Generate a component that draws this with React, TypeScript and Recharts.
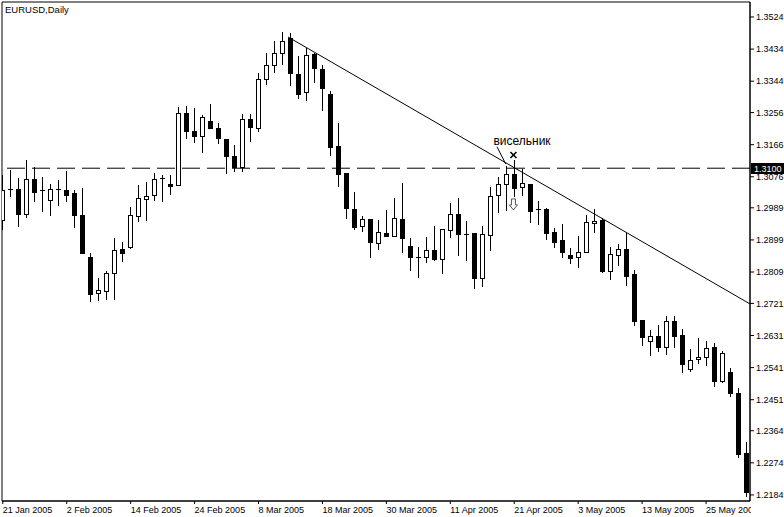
import React from 'react';
import {
  ComposedChart, Bar, XAxis, YAxis, ReferenceLine, ReferenceArea, ReferenceDot,
} from 'recharts';

// EURUSD daily, 21 Jan 2005 .. 1 Jun 2005 (one value per trading day)
const opens = [
  1.2955, 1.3042, 1.3042, 1.2972, 1.3070, 1.3039, 1.3011, 1.3042, 1.3039, 1.3031,
  1.2969, 1.2851, 1.2750, 1.2756, 1.2806, 1.2874, 1.2879, 1.2966, 1.3014, 1.3025,
  1.3073, 1.3056, 1.3053, 1.3255, 1.3204, 1.3190, 1.3233, 1.3213, 1.3182, 1.3134,
  1.3104, 1.3238, 1.3213, 1.3350, 1.3390, 1.3423, 1.3465, 1.3364, 1.3314, 1.3420,
  1.3378, 1.3308, 1.3162, 1.3087, 1.2986, 1.2938, 1.2958, 1.2891, 1.2919, 1.2910,
  1.2958, 1.2882, 1.2851, 1.2851, 1.2871, 1.2846, 1.2927, 1.2972, 1.2916, 1.2919,
  1.2792, 1.2913, 1.3025, 1.3056, 1.3084, 1.3047, 1.3056, 1.2986, 1.2986, 1.2921,
  1.2899, 1.2857, 1.2851, 1.2865, 1.2947, 1.2955, 1.2812, 1.2857, 1.2874, 1.2804,
  1.2675, 1.2616, 1.2630, 1.2599, 1.2672, 1.2633, 1.2537, 1.2565, 1.2571, 1.2599,
  1.2504, 1.2529, 1.2470, 1.2302,
];
const highs = [
  1.3081, 1.3095, 1.3073, 1.3123, 1.3104, 1.3075, 1.3056, 1.3067, 1.3092, 1.3039,
  1.3045, 1.2862, 1.2792, 1.2812, 1.2905, 1.2893, 1.2991, 1.3053, 1.3062, 1.3087,
  1.3081, 1.3081, 1.3272, 1.3275, 1.3269, 1.3249, 1.3280, 1.3227, 1.3182, 1.3165,
  1.3252, 1.3252, 1.3367, 1.3423, 1.3457, 1.3482, 1.3479, 1.3415, 1.3437, 1.3423,
  1.3390, 1.3317, 1.3227, 1.3087, 1.3033, 1.2966, 1.2958, 1.2955, 1.2983, 1.3017,
  1.3059, 1.2905, 1.2879, 1.2907, 1.2938, 1.2930, 1.3003, 1.3017, 1.2952, 1.2919,
  1.2938, 1.3047, 1.3075, 1.3106, 1.3123, 1.3098, 1.3056, 1.3008, 1.2989, 1.2933,
  1.2944, 1.2877, 1.2910, 1.2969, 1.2986, 1.2961, 1.2879, 1.2888, 1.2919, 1.2815,
  1.2675, 1.2647, 1.2661, 1.2686, 1.2686, 1.2649, 1.2593, 1.2624, 1.2616, 1.2610,
  1.2588, 1.2540, 1.2484, 1.2333,
];
const lows = [
  1.2927, 1.3019, 1.2935, 1.2961, 1.3005, 1.2977, 1.2966, 1.2994, 1.3005, 1.2933,
  1.2860, 1.2725, 1.2728, 1.2731, 1.2731, 1.2837, 1.2874, 1.2949, 1.2952, 1.3008,
  1.3005, 1.3025, 1.3050, 1.3182, 1.3171, 1.3143, 1.3213, 1.3168, 1.3084, 1.3090,
  1.3090, 1.3174, 1.3202, 1.3333, 1.3367, 1.3390, 1.3331, 1.3294, 1.3289, 1.3339,
  1.3261, 1.3134, 1.3047, 1.2958, 1.2927, 1.2921, 1.2848, 1.2871, 1.2907, 1.2907,
  1.2862, 1.2812, 1.2792, 1.2834, 1.2840, 1.2804, 1.2905, 1.2854, 1.2840, 1.2762,
  1.2767, 1.2868, 1.2975, 1.2980, 1.3019, 1.3022, 1.2947, 1.2941, 1.2899, 1.2877,
  1.2848, 1.2832, 1.2820, 1.2862, 1.2919, 1.2806, 1.2787, 1.2826, 1.2770, 1.2658,
  1.2602, 1.2574, 1.2585, 1.2577, 1.2596, 1.2526, 1.2529, 1.2551, 1.2546, 1.2487,
  1.2498, 1.2459, 1.2288, 1.2178,
];
const closes = [
  1.3039, 1.3042, 1.2972, 1.3070, 1.3033, 1.3039, 1.3042, 1.3042, 1.3025, 1.2969,
  1.2862, 1.2748, 1.2759, 1.2806, 1.2871, 1.2862, 1.2969, 1.3017, 1.3022, 1.3070,
  1.3073, 1.3050, 1.3255, 1.3204, 1.3190, 1.3244, 1.3213, 1.3185, 1.3134, 1.3104,
  1.3238, 1.3216, 1.3350, 1.3390, 1.3423, 1.3457, 1.3367, 1.3308, 1.3418, 1.3381,
  1.3325, 1.3160, 1.3084, 1.2989, 1.2935, 1.2958, 1.2893, 1.2921, 1.2910, 1.2961,
  1.2905, 1.2851, 1.2851, 1.2871, 1.2846, 1.2930, 1.2972, 1.2916, 1.2916, 1.2792,
  1.2916, 1.3022, 1.3056, 1.3084, 1.3045, 1.3059, 1.2980, 1.2986, 1.2919, 1.2893,
  1.2865, 1.2848, 1.2865, 1.2949, 1.2952, 1.2812, 1.2860, 1.2874, 1.2798, 1.2672,
  1.2627, 1.2630, 1.2599, 1.2672, 1.2630, 1.2551, 1.2563, 1.2571, 1.2596, 1.2504,
  1.2582, 1.2470, 1.2299, 1.2192,
];

// date labels every 8 bars
const dateTicks = [0, 8, 16, 24, 32, 40, 48, 56, 64, 72, 80, 88];
const dateLabels = [
  '21 Jan 2005', '2 Feb 2005', '14 Feb 2005', '24 Feb 2005', '8 Mar 2005', '18 Mar 2005',
  '30 Mar 2005', '11 Apr 2005', '21 Apr 2005', '3 May 2005', '13 May 2005', '25 May 2005',
];
const priceTicks = [
  1.3524, 1.3434, 1.3344, 1.3256, 1.3166, 1.3076, 1.2989, 1.2899,
  1.2809, 1.2721, 1.2631, 1.2541, 1.2451, 1.2364, 1.2274, 1.2184,
];

const levelPrice = 1.31;
const trendLine = [{ x: 35.69, y: 1.3468 }, { x: 93.5, y: 1.27195 }];
const pointerLine = [{ x: 61.84, y: 1.316 }, { x: 62.93, y: 1.3112 }];
const markCross = { x: 63.9, y: 1.3137 };
const markArrow = { x: 63.9, y: 1.2997 };
const markLabel = { x: 64.97, y: 1.3177, text: 'висельник' };

const X_DOMAIN = [-0.1, 93.5];
const Y_DOMAIN = [1.2167, 1.3566];
const FONT = '"Liberation Sans", Arial, sans-serif';

const data = opens.map((o, i) => ({
  i,
  open: o,
  high: highs[i],
  low: lows[i],
  close: closes[i],
  range: [lows[i], highs[i]],
}));

const Candle = (props: any) => {
  const { x, y, width, height, payload } = props;
  const { open, close, high, low } = payload;
  const c = Math.round(x + width / 2);
  const k = height / (high - low);
  const yOf = (v: number) => y + (high - v) * k;
  const top = Math.round(yOf(Math.max(open, close)));
  const bot = Math.round(yOf(Math.min(open, close)));
  const wick = <line x1={c + 0.5} x2={c + 0.5} y1={Math.round(y)} y2={Math.round(y + height)} stroke="#000" strokeWidth={1} />;
  if (bot - top < 1) {
    return (
      <g>
        {wick}
        <line x1={c - 2} x2={c + 3} y1={top + 0.5} y2={top + 0.5} stroke="#000" strokeWidth={1} />
      </g>
    );
  }
  if (close > open) {
    return (
      <g>
        {wick}
        <rect x={c - 1.5} y={top + 0.5} width={4} height={bot - top} fill="#fff" stroke="#000" strokeWidth={1} />
      </g>
    );
  }
  return (
    <g>
      {wick}
      <rect x={c - 2} y={top} width={5} height={bot - top + 1} fill="#000" />
    </g>
  );
};

// date labels are cut off where the price scale begins
const DateTick = (props: any) => {
  const { x, y, payload } = props;
  const idx = dateTicks.indexOf(payload.value);
  return (
    <g>
      {idx === 0 && (
        <defs>
          <clipPath id="dateClip">
            <rect x={0} y={0} width={751} height={517} />
          </clipPath>
        </defs>
      )}
      <text x={x} y={y + 7} textAnchor="start" fontSize={9} fontFamily={FONT} fill="#000" clipPath="url(#dateClip)">
        {dateLabels[idx]}
      </text>
    </g>
  );
};

const PriceTag = (props: any) => {
  const { viewBox } = props;
  const right = viewBox.x + viewBox.width;
  const yy = Math.round(viewBox.y);
  return (
    <g>
      <rect x={right + 1} y={yy - 5} width={34} height={11} fill="#000" />
      <text x={right + 4} y={yy + 4} fontSize={9} fontFamily={FONT} fill="#fff">1.3100</text>
    </g>
  );
};

const CrossMark = (p: any) => (
  <g stroke="#000" strokeWidth={1.6}>
    <line x1={p.cx - 3} y1={p.cy - 3} x2={p.cx + 3} y2={p.cy + 3} />
    <line x1={p.cx - 3} y1={p.cy + 3} x2={p.cx + 3} y2={p.cy - 3} />
  </g>
);

const DownArrow = (p: any) => {
  const { cx, cy } = p;
  const d = `M${cx - 2},${cy - 6} L${cx + 2},${cy - 6} L${cx + 2},${cy} L${cx + 4},${cy} L${cx},${cy + 5} L${cx - 4},${cy} L${cx - 2},${cy} Z`;
  return <path d={d} fill="#fff" stroke="#555" strokeWidth={1} />;
};

const MarkText = (p: any) => (
  <text x={p.cx} y={p.cy + 4} textAnchor="middle" fontSize={12} fontFamily={FONT} fill="#000">
    {markLabel.text}
  </text>
);

export default function App() {
  return (
    <div style={{ position: 'relative', width: 784, height: 517, background: '#fff' }}>
      <style>{'body{margin:0;background:#fff}'}</style>
      <ComposedChart
        width={784}
        height={517}
        data={data}
        margin={{ top: 2, right: 0, bottom: 0, left: 2 }}
      >
        <XAxis
          dataKey="i"
          type="number"
          domain={X_DOMAIN}
          allowDataOverflow
          ticks={dateTicks}
          tick={<DateTick />}
          tickSize={3}
          height={16}
          axisLine={{ stroke: '#000' }}
          tickLine={{ stroke: '#000' }}
          interval={0}
        />
        <YAxis
          orientation="right"
          type="number"
          domain={Y_DOMAIN}
          allowDataOverflow
          ticks={priceTicks}
          interval={0}
          width={34}
          tickSize={4}
          tickMargin={2}
          tickFormatter={(v: number) => v.toFixed(4)}
          tick={{ fontSize: 9, fontFamily: FONT, fill: '#000' }}
          axisLine={{ stroke: '#000' }}
          tickLine={{ stroke: '#000' }}
        />
        <ReferenceArea
          x1={X_DOMAIN[0]}
          x2={X_DOMAIN[1]}
          y1={Y_DOMAIN[0]}
          y2={Y_DOMAIN[1]}
          fill="none"
          stroke="#000"
          strokeWidth={1}
        />
        <ReferenceLine y={levelPrice} stroke="#000" strokeDasharray="18 7" label={<PriceTag />} />
        <Bar dataKey="range" barSize={5} shape={<Candle />} isAnimationActive={false} />
        <ReferenceLine segment={trendLine} stroke="#000" strokeWidth={1} />
        <ReferenceLine segment={pointerLine} stroke="#000" strokeWidth={1} />
        <ReferenceDot x={markCross.x} y={markCross.y} r={0} shape={CrossMark} />
        <ReferenceDot x={markArrow.x} y={markArrow.y} r={0} shape={DownArrow} />
        <ReferenceDot x={markLabel.x} y={markLabel.y} r={0} shape={MarkText} />
      </ComposedChart>
      <div
        style={{
          position: 'absolute', left: 5, top: 4, fontSize: 9.5, fontFamily: FONT, color: '#000',
        }}
      >
        EURUSD,Daily
      </div>
    </div>
  );
}
